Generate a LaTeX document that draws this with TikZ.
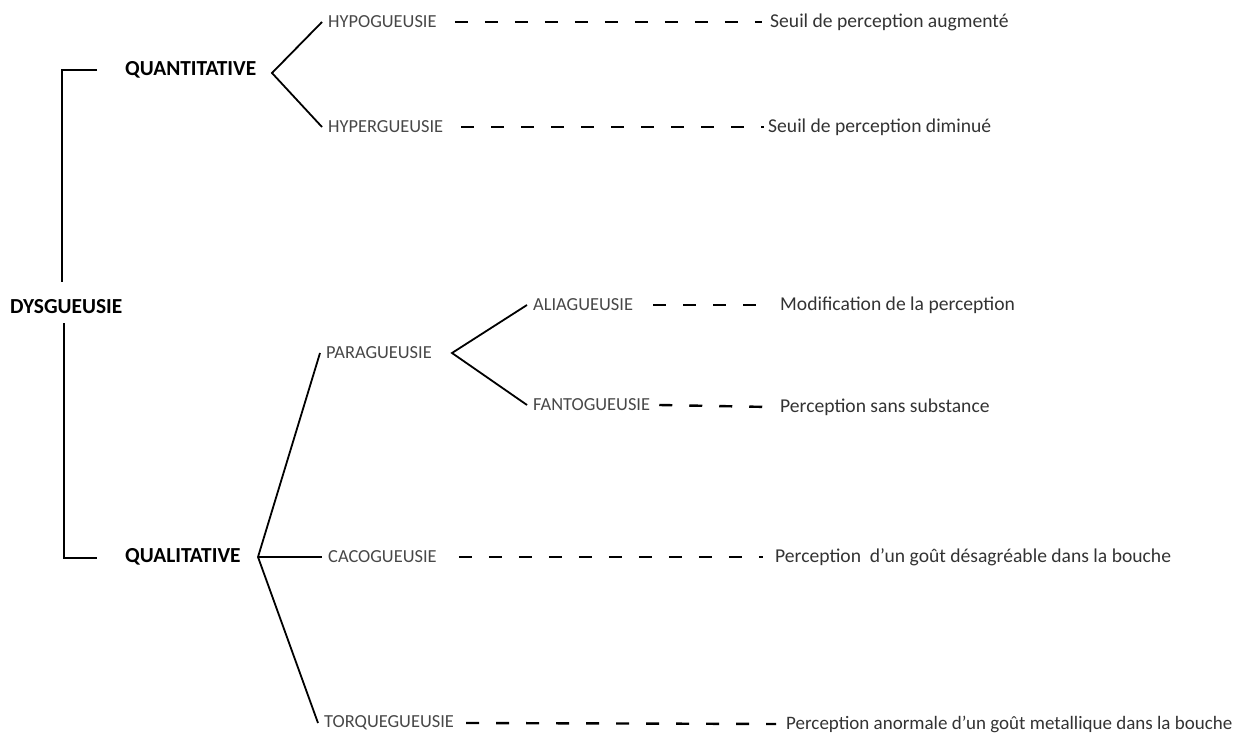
\documentclass[tikz,border=0pt]{standalone}
\usepackage{fontspec}
\setmainfont{Carlito}
\begin{document}
\begin{tikzpicture}[x=1pt,y=-1pt,
  every node/.style={inner sep=0pt},
  main/.style={anchor=west, font=\fontsize{21.4}{24}\selectfont\bfseries, text=black},
  lab/.style={anchor=west, font=\fontsize{18.4}{22}\selectfont, text=black!72, inner xsep=6pt},
  desc/.style={anchor=west, font=\fontsize{19.6}{23}\selectfont, text=black!80},
  link/.style={line width=1.8pt, black},
  dashline/.style={line width=2.4pt, black, dash pattern=on 13pt off 17pt}]
\useasboundingbox (0,0) rectangle (1243,746);
% main nodes
\node[main] (dys) at (10,307) {DYSGUEUSIE};
\node[main] (quant) at (125,70) {QUANTITATIVE};
\node[main] (qual) at (125,557) {QUALITATIVE};
% bracket
\coordinate (b1) at (97,70);
\coordinate (b2) at (62,70);
\coordinate (b3) at (62,282);
\coordinate (b4) at (64,323);
\coordinate (b5) at (64,558);
\coordinate (b6) at (97,558);
\draw[link] (b1) -- (b2) -- (b3);
\draw[link] (b4) -- (b5) -- (b6);
% quantitative branch
\coordinate (vq) at (272,73);
\node[lab] (hypo) at (322,22) {HYPOGUEUSIE};
\node[lab] (hyper) at (322,127) {HYPERGUEUSIE};
\draw[link] (hypo.west) -- (vq) -- (hyper.west);
\node[desc] (hypod) at (770,22) {Seuil de perception augmenté};
\node[desc] (hyperd) at (768,127) {Seuil de perception diminué};
\draw[dashline] ([xshift=12pt]hypo.east) -- ([xshift=-8pt]hypod.west);
\draw[dashline] ([xshift=12pt]hyper.east) -- ([xshift=-4pt]hyperd.west);
% qualitative branch
\coordinate (vl) at (258,557);
\node[lab] (para) at (320,353) {PARAGUEUSIE};
\node[lab] (caco) at (322,557) {CACOGUEUSIE};
\node[lab] (torque) at (318,723) {TORQUEGUEUSIE};
\draw[link] (para.west) -- (vl) -- (torque.west);
\draw[link] (vl) -- (caco.west);
\node[desc] (cacod) at (775,557) {Perception \ d'un goût désagréable dans la bouche};
\node[desc, font=\fontsize{19}{23}\selectfont] (torqued) at (786,724) {Perception anormale d'un goût metallique dans la bouche};
\draw[dashline] ([xshift=16pt]caco.east) -- ([xshift=-12pt]cacod.west);
\draw[dashline] ([xshift=6pt]torque.east) -- ([xshift=-10pt]torqued.west);
% paragueusie branch
\coordinate (vp) at (452,353);
\node[lab] (alia) at (527,305) {ALIAGUEUSIE};
\node[lab] (fanto) at (527,405) {FANTOGUEUSIE};
\draw[link] (alia.west) -- (vp) -- (fanto.west);
\node[desc] (aliad) at (780,305) {Modification de la perception};
\node[desc] (fantod) at (780,407) {Perception sans substance};
\draw[dashline] ([xshift=14pt]alia.east) -- ([xshift=-10pt]aliad.west);
\draw[dashline] ([xshift=3pt]fanto.east) -- ([xshift=-10pt]fantod.west);
\end{tikzpicture}
\end{document}
